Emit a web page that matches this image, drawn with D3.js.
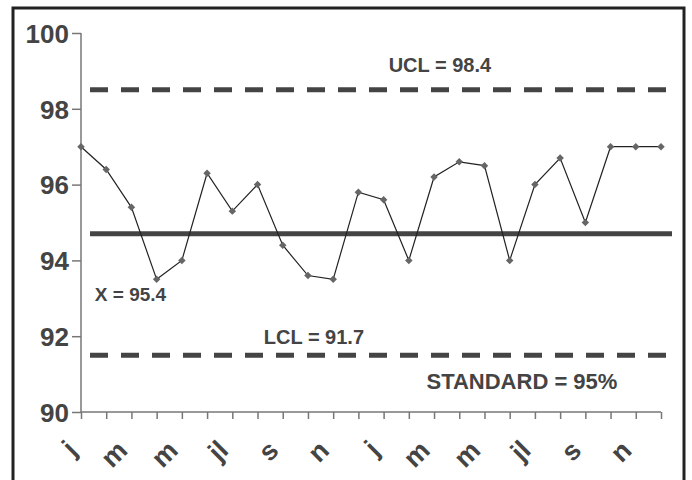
<!DOCTYPE html>
<html>
<head>
<meta charset="utf-8">
<script src="https://cdn.jsdelivr.net/npm/d3@7"></script>
<style>
  body { margin: 0; background: #fff; }
  text { font-family: "Liberation Sans", Arial, sans-serif; font-weight: bold; fill: #444; }
</style>
</head>
<body>
<script>
var months = ['j','f','m','a','m','j','jl','a','s','o','n','d',
              'j','f','m','a','m','j','jl','a','s','o','n','d'];
var values = [97.0, 96.4, 95.4, 93.5, 94.0, 96.3, 95.3, 96.0, 94.4, 93.6, 93.5, 95.8,
              95.6, 94.0, 96.2, 96.6, 96.5, 94.0, 96.0, 96.7, 95.0, 97.0, 97.0, 97.0];
var yTicks = [90, 92, 94, 96, 98, 100];
var ucl = 98.5, centre = 94.7, lcl = 91.5;
var labels = [
  {text: 'UCL = 98.4', x: 12.2, y: 98.97, size: 20},
  {text: 'X = 95.4', x: 0.55, y: 92.92, size: 19},
  {text: 'LCL = 91.7', x: 7.25, y: 91.8, size: 20},
  {text: 'STANDARD = 95%', x: 13.7, y: 90.6, size: 22}
];

var width = 692, height = 480;
var margin = {top: 33, left: 81};
var innerW = 580, innerH = 379;

var svg = d3.select('body').append('svg')
  .attr('width', width)
  .attr('height', height);

// frame
svg.append('rect')
  .attr('x', 13).attr('y', 8)
  .attr('width', 671).attr('height', 490)
  .attr('fill', 'none')
  .attr('stroke', '#222')
  .attr('stroke-width', 3);

var x = d3.scaleLinear().domain([0, months.length - 1]).range([0, innerW]);
var y = d3.scaleLinear().domain([90, 100]).range([innerH, 0]);

var main = svg.append('g')
  .attr('transform', 'translate(' + margin.left + ',' + margin.top + ')');

// y axis
var yAxis = main.append('g')
  .call(d3.axisLeft(y).tickValues(yTicks).tickSize(9).tickPadding(3).tickFormat(d3.format('d')));
yAxis.select('.domain').attr('stroke', '#777').attr('stroke-width', 1.5).attr('d', 'M0,0V' + innerH);
yAxis.selectAll('.tick line').attr('stroke', '#777').attr('stroke-width', 1.5);
yAxis.selectAll('.tick text')
  .style('font-size', '26px')
  .attr('dy', '0.36em')
  .style('fill', '#444');

// x axis
var xAxis = main.append('g')
  .attr('transform', 'translate(0,' + innerH + ')')
  .call(d3.axisBottom(x).tickValues(d3.range(months.length)).tickSize(7)
    .tickFormat(function(i) { return i % 2 === 0 ? months[i] : ''; }));
xAxis.select('.domain').attr('stroke', '#777').attr('stroke-width', 1.5).attr('d', 'M0,0H' + innerW);
xAxis.selectAll('.tick line').attr('stroke', '#777').attr('stroke-width', 1.5);
xAxis.selectAll('.tick text')
  .style('font-size', '27px')
  .style('fill', '#444')
  .attr('text-anchor', 'end')
  .attr('y', 0)
  .attr('dy', 0)
  .attr('transform', 'translate(-3,40) rotate(-45)');

// control lines
function hline(v, dash) {
  main.append('line')
    .attr('x1', 9).attr('x2', dash ? 586 : 591)
    .attr('y1', y(v)).attr('y2', y(v))
    .attr('stroke', '#444')
    .attr('stroke-width', 5)
    .attr('stroke-dasharray', dash ? '18,13' : null);
}
hline(ucl, true);
hline(lcl, true);
hline(centre, false);

// series
main.append('path')
  .datum(values)
  .attr('fill', 'none')
  .attr('stroke', '#222')
  .attr('stroke-width', 1.2)
  .attr('d', d3.line().x(function(d, i) { return x(i); }).y(function(d) { return y(d); }));

main.selectAll('.pt')
  .data(values)
  .enter().append('path')
  .attr('class', 'pt')
  .attr('d', d3.symbol().type(d3.symbolSquare).size(28))
  .attr('transform', function(d, i) { return 'translate(' + x(i) + ',' + y(d) + ') rotate(45)'; })
  .attr('fill', '#666');

// annotations
main.selectAll('.lbl')
  .data(labels)
  .enter().append('text')
  .attr('class', 'lbl')
  .attr('x', function(d) { return x(d.x); })
  .attr('y', function(d) { return y(d.y); })
  .style('font-size', function(d) { return d.size + 'px'; })
  .text(function(d) { return d.text; });
</script>
</body>
</html>
